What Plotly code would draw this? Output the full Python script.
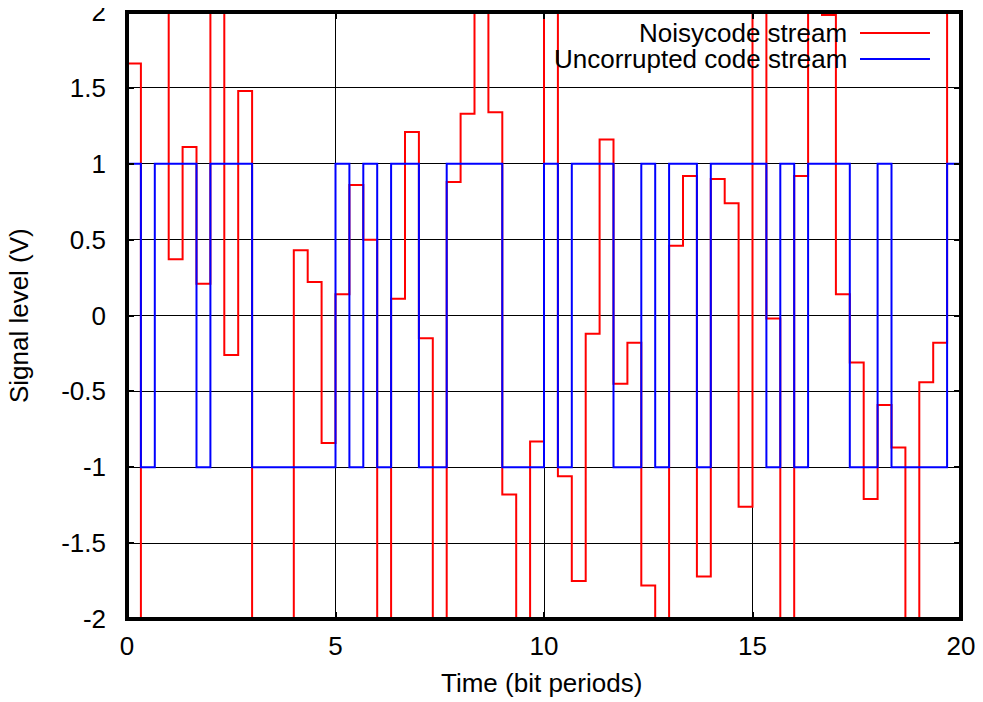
import plotly.graph_objects as go

# ---------------- data ----------------
bit_step = 1.0 / 3.0  # samples per bit period: 3

noisy_values = [
    1.66, -2.4, 2.4, 0.37, 1.11, 0.21, 2.3, -0.26, 1.48, -2.3,
    -2.5, -2.2, 0.43, 0.22, -0.84, 0.14, 0.86, 0.50, -2.3, 0.11,
    1.21, -0.15, -2.3, 0.88, 1.33, 2.3, 1.34, -1.18, -2.3, -0.83,
    2.3, -1.06, -1.75, -0.12, 1.16, -0.45, -0.18, -1.78, -2.3, 0.46,
    0.92, -1.72, 0.90, 0.74, -1.26, 2.3, -0.02, -2.3, 0.92, 2.3,
    1.98, 0.14, -0.31, -1.21, -0.59, -0.87, -2.3, -0.44, -0.18, 2.3,
]

clean_values = [
    1, -1, 1, 1, 1, -1, 1, 1, 1, -1,
    -1, -1, -1, -1, -1, 1, -1, 1, -1, 1,
    1, -1, -1, 1, 1, 1, 1, -1, -1, -1,
    1, -1, 1, 1, 1, -1, -1, 1, -1, 1,
    1, -1, 1, 1, 1, 1, -1, 1, -1, 1,
    1, 1, -1, -1, 1, -1, -1, -1, -1, 1,
]

x_ticks = [0, 5, 10, 15, 20]
x_tick_labels = ["0", "5", "10", "15", "20"]
y_ticks = [-2, -1.5, -1, -0.5, 0, 0.5, 1, 1.5, 2]
y_tick_labels = ["-2", "-1.5", "-1", "-0.5", "0", "0.5", "1", "1.5", "2"]

series_names = ["Noisycode stream", "Uncorrupted code stream"]
x_min, x_max = 0, 20
y_min, y_max = -2, 2


def step_arrays(values, lo, hi):
    """Build hv-step arrays; break the line where gnuplot skips a step
    between two samples lying outside the range on opposite sides."""
    xs, ys = [], []
    prev = None
    for i, v in enumerate(values):
        x = i * bit_step
        if prev is not None and ((prev > hi and v < lo) or (prev < lo and v > hi)):
            xs.append(x)
            ys.append(None)
        xs.append(x)
        ys.append(v)
        prev = v
    xs.append(len(values) * bit_step)
    ys.append(values[-1])
    return xs, ys


rx, ry = step_arrays(noisy_values, y_min, y_max)
bx, by = step_arrays(clean_values, y_min, y_max)

FONT = "Liberation Sans, Arial, Helvetica, sans-serif"
FS = 26

fig = go.Figure()
fig.add_trace(go.Scatter(x=rx, y=ry, mode="lines", line=dict(color="#ff0000", width=2, shape="hv"),
                         name=series_names[0], connectgaps=False, showlegend=False))
fig.add_trace(go.Scatter(x=bx, y=by, mode="lines", line=dict(color="#0000ff", width=2, shape="hv"),
                         name=series_names[1], connectgaps=False, showlegend=False))

# the page body has an 8px margin: size the figure so it fills the 983x702 window
fig.update_layout(
    width=975, height=694,
    margin=dict(l=119, r=22, t=4, b=82.5, pad=0),
    paper_bgcolor="white", plot_bgcolor="white",
    font=dict(family=FONT, size=FS, color="black"),
    showlegend=False,
)
fig.update_xaxes(
    range=[x_min, x_max], tickvals=x_ticks, ticktext=x_tick_labels,
    showgrid=True, gridcolor="black", gridwidth=1, zeroline=False,
    showline=False, ticks="inside", ticklen=7, tickwidth=2, tickcolor="black",
    mirror="ticks", ticklabelstandoff=9, tickfont=dict(size=FS),
    ticklabeloverflow="allow", automargin=False,
)
fig.update_yaxes(
    range=[y_min, y_max], tickvals=y_ticks, ticktext=y_tick_labels,
    showgrid=True, gridcolor="black", gridwidth=1, zeroline=False,
    showline=False, ticks="inside", ticklen=7, tickwidth=2, tickcolor="black",
    mirror="ticks", ticklabelstandoff=20, tickfont=dict(size=FS),
    ticklabeloverflow="allow", automargin=False,
)

# frame
fig.add_shape(type="rect", xref="paper", yref="paper", x0=0, x1=1, y0=0, y1=1,
              line=dict(color="black", width=4), fillcolor="rgba(0,0,0,0)", layer="above")

# axis titles
fig.add_annotation(text="Time (bit periods)", xref="paper", yref="paper", x=0.4976, y=-0.106,
                   xanchor="center", yanchor="middle", showarrow=False, font=dict(size=FS))
fig.add_annotation(text="Signal level (V)", xref="paper", yref="paper", x=-0.130, y=0.5,
                   xanchor="center", yanchor="middle", textangle=-90, showarrow=False,
                   font=dict(size=FS))

# legend (text on the left, sample line on the right, as in gnuplot)
legend_colors = ["#ff0000", "#0000ff"]
legend_rows_y = [0.9654, 0.9226]
for name, col, yy in zip(series_names, legend_colors, legend_rows_y):
    fig.add_annotation(text=name, xref="paper", yref="paper", x=0.8657, y=yy,
                       xanchor="right", yanchor="middle", showarrow=False,
                       font=dict(size=FS))
    fig.add_shape(type="line", xref="paper", yref="paper", x0=0.8789, x1=0.9628, y0=yy, y1=yy,
                  line=dict(color=col, width=2))

fig.write_html("out.html")
